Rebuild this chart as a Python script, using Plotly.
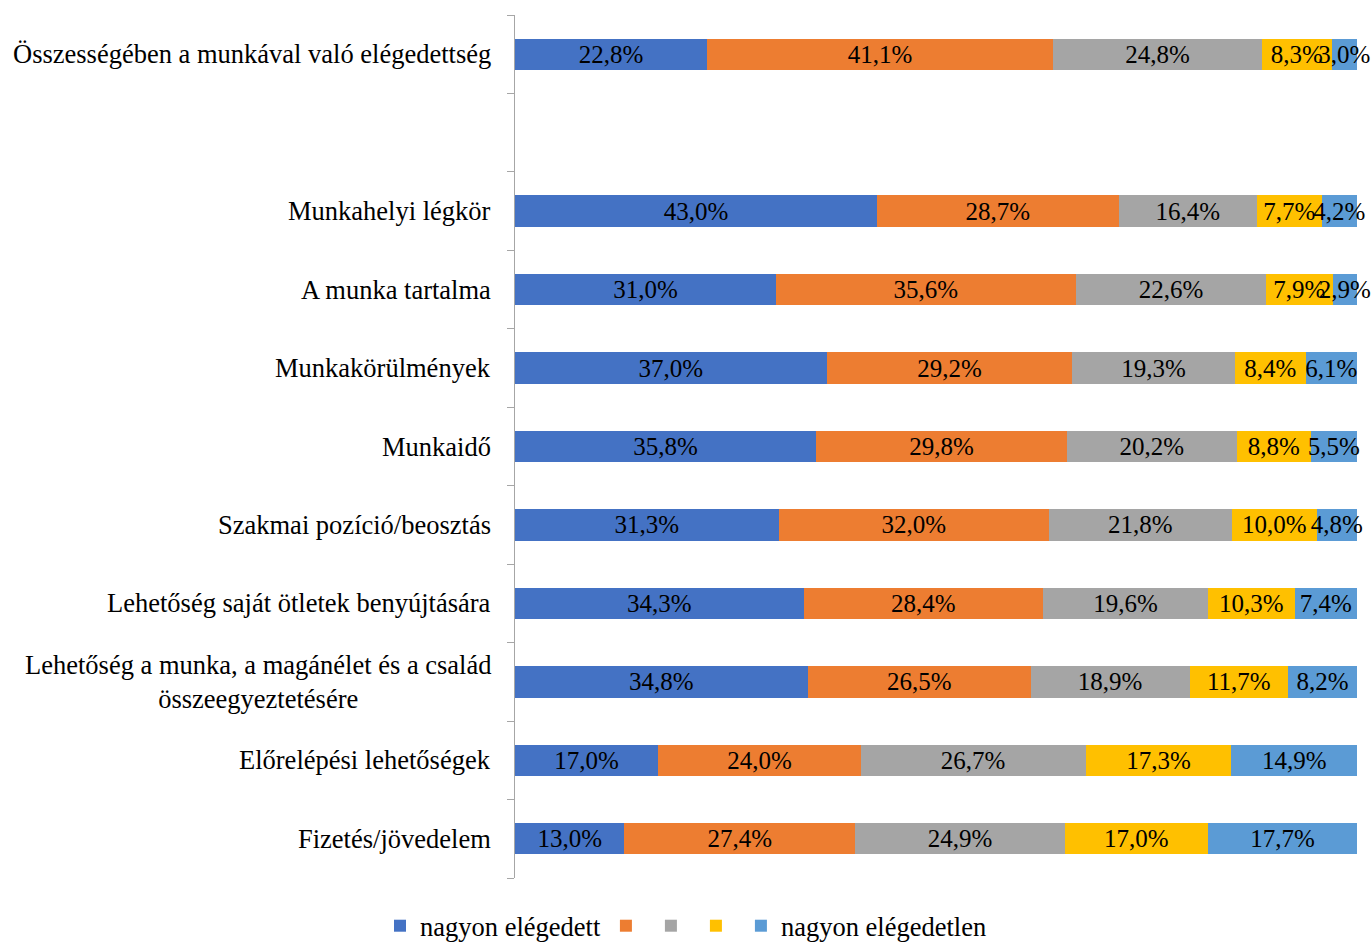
import plotly.graph_objects as go

# kategóriák felülről lefelé (None = üres sor)
categories = [
    "Összességében a munkával való elégedettség",
    None,
    "Munkahelyi légkör",
    "A munka tartalma",
    "Munkakörülmények",
    "Munkaidő",
    "Szakmai pozíció/beosztás",
    "Lehetőség saját ötletek benyújtására",
    "Lehetőség a munka, a magánélet és a család<br>összeegyeztetésére",
    "Előrelépési lehetőségek",
    "Fizetés/jövedelem",
]

series_names = ["nagyon elégedett", "", "", "", "nagyon elégedetlen"]
series_colors = ["#4472C4", "#ED7D31", "#A5A5A5", "#FFC000", "#5B9BD5"]

s1 = [22.8, None, 43.0, 31.0, 37.0, 35.8, 31.3, 34.3, 34.8, 17.0, 13.0]
s2 = [41.1, None, 28.7, 35.6, 29.2, 29.8, 32.0, 28.4, 26.5, 24.0, 27.4]
s3 = [24.8, None, 16.4, 22.6, 19.3, 20.2, 21.8, 19.6, 18.9, 26.7, 24.9]
s4 = [8.3, None, 7.7, 7.9, 8.4, 8.8, 10.0, 10.3, 11.7, 17.3, 17.0]
s5 = [3.0, None, 4.2, 2.9, 6.1, 5.5, 4.8, 7.4, 8.2, 14.9, 17.7]

FONT = "Liberation Serif, Times New Roman, serif"
ypos = list(range(len(categories)))

fig = go.Figure()
for name, color, vals in zip(series_names, series_colors, [s1, s2, s3, s4, s5]):
    fig.add_trace(go.Bar(
        name=name,
        y=ypos,
        x=vals,
        orientation='h',
        width=0.4,
        marker=dict(color=color, line=dict(width=0)),
        text=[f"{v:.1f}%".replace('.', ',') if v is not None else "" for v in vals],
        textposition='inside',
        insidetextanchor='middle',
        textangle=0,
        textfont=dict(family=FONT, size=25, color='black'),
        cliponaxis=False,
        showlegend=True,
    ))

# kategória feliratok (középre igazított sorok, jobbra zárva)
for i, cat in enumerate(categories):
    if cat is None:
        continue
    fig.add_annotation(
        x=0, xref='paper', y=i, yref='y',
        text=cat, showarrow=False,
        xanchor='right', yanchor='middle', align='center',
        xshift=-22,
        font=dict(family=FONT, size=26.5, color='black'),
    )

fig.update_layout(
    barmode='stack',
    barnorm='percent',
    width=1372, height=942,
    margin=dict(l=515, r=15, t=15, b=64),
    plot_bgcolor='white',
    paper_bgcolor='white',
    font=dict(family=FONT, size=26, color='black'),
    uniformtext=dict(minsize=25, mode='show'),
    legend=dict(
        orientation='h',
        x=0.5, xref='container', xanchor='center',
        y=0.017, yref='container', yanchor='middle',
        font=dict(family=FONT, size=26.5),
        itemwidth=30,
        traceorder='normal',
    ),
    xaxis=dict(range=[0, 100], visible=False),
    yaxis=dict(
        range=[len(categories) - 0.5, -0.5],
        tickmode='array',
        tickvals=[i - 0.5 for i in range(len(categories) + 1)],
        ticktext=[""] * (len(categories) + 1),
        ticks='outside', ticklen=7, tickcolor='#A6A6A6',
        showline=True, linecolor='#A6A6A6', linewidth=1,
        showgrid=False, zeroline=False,
    ),
)

fig.write_html("out.html", config={'displayModeBar': False},
               post_script="document.body.style.margin='0';")
